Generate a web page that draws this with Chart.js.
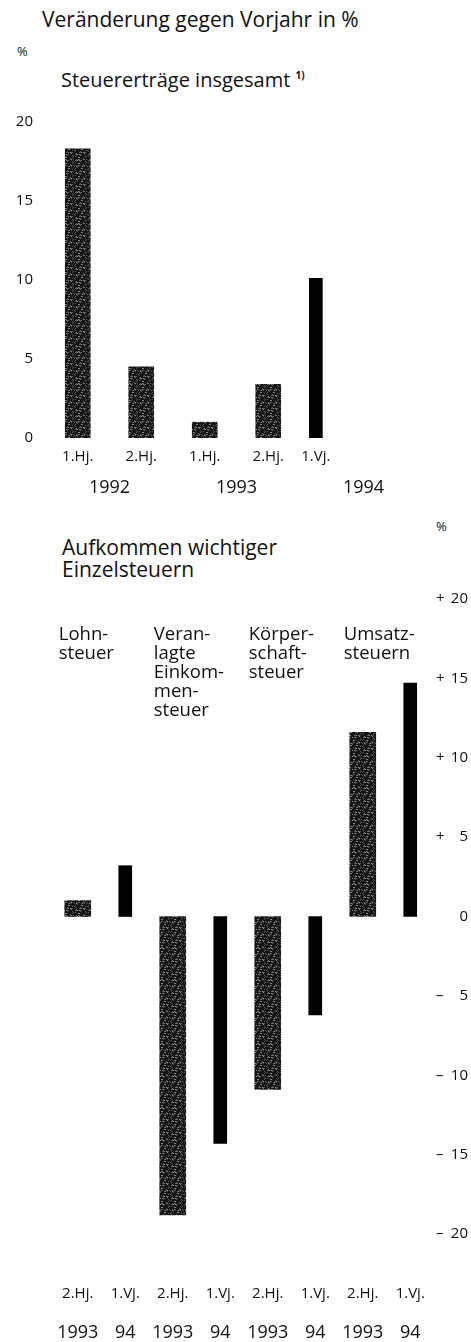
<!DOCTYPE html>
<html>
<head>
<meta charset="utf-8">
<script src="https://cdn.jsdelivr.net/npm/chart.js@4.4.1/dist/chart.umd.min.js"></script>
<style>
  body { margin: 0; background: #fff; }
  #page { position: relative; width: 471px; height: 1342px; font-family: "Open Sans", sans-serif; color: #111; }
  .txt { position: absolute; white-space: nowrap; line-height: 1; }
  canvas { position: absolute; left: 0; }
</style>
</head>
<body>
<div id="page">
  <div class="txt" style="left:42px; top:9px; font-size:21px;">Veränderung gegen Vorjahr in %</div>
  <div class="txt" style="left:17px; top:45px; font-size:13px;">%</div>
  <div class="txt" style="left:61px; top:70px; font-size:20px;">Steuererträge insgesamt <sup style="font-size:10px; font-weight:bold;">1)</sup></div>
  <div class="txt" style="left:436px; top:520px; font-size:13px;">%</div>
  <div class="txt" style="left:62px; top:536px; font-size:21px; line-height:22px;">Aufkommen wichtiger<br>Einzelsteuern</div>
  <div style="position:absolute; left:0; top:0; width:471px; height:510px;"><canvas id="totalChart"></canvas></div>
  <div style="position:absolute; left:0; top:500px; width:471px; height:842px;"><canvas id="singleChart"></canvas></div>
</div>
<script>
// Steuererträge insgesamt, Veränderung gegen Vorjahr in %
// x position = middle of the period in months since start of 1992
const totalHalfYearX = [3, 9, 15, 21];
const totalHalfYearValues = [18.3, 4.5, 1.0, 3.4];
const totalQuarterX = [25.5];
const totalQuarterValues = [10.1];
const totalPeriodLabels = ['1.Hj.', '2.Hj.', '1.Hj.', '2.Hj.', '1.Vj.'];
const totalYearX = [6, 18, 30];
const totalYearLabels = ['1992', '1993', '1994'];

// Aufkommen wichtiger Einzelsteuern
const taxNames = [['Lohn-', 'steuer'], ['Veran-', 'lagte', 'Einkom-', 'men-', 'steuer'], ['Körper-', 'schaft-', 'steuer'], ['Umsatz-', 'steuern']];
const secondHalf1993 = [1.0, -18.8, -10.9, 11.6];
const firstQuarter1994 = [3.2, -14.3, -6.2, 14.7];
const singlePeriodLabels = ['2.Hj.', '1.Vj.', '2.Hj.', '1.Vj.', '2.Hj.', '1.Vj.', '2.Hj.', '1.Vj.'];
const singleYearLabels = ['1993', '94', '1993', '94', '1993', '94', '1993', '94'];

const FONT = '"Open Sans", sans-serif';

// stippled grey texture like the printed half-year bars
function makeStipple() {
    const c = document.createElement('canvas');
    c.width = 32; c.height = 32;
    const g = c.getContext('2d');
    g.fillStyle = '#161616';
    g.fillRect(0, 0, 32, 32);
    for (let y = 0; y < 32; y++) {
        for (let x = 0; x < 32; x++) {
            const h = (x * x * 31 + y * y * 17 + x * y * 7 + x * 3) % 13;
            if (h < 3) {
                g.fillStyle = h === 0 ? '#8a8a8a' : '#555';
                g.fillRect(x, y, 1, 1);
            }
        }
    }
    return g.createPattern(c, 'repeat');
}
const stipple = makeStipple();

const periodX = totalHalfYearX.concat(totalQuarterX);

new Chart(document.getElementById('totalChart'), {
    type: 'bar',
    data: {
        datasets: [{
            data: totalHalfYearX.map((x, i) => ({ x: x, y: totalHalfYearValues[i] })),
            backgroundColor: stipple,
            barThickness: 25,
            grouped: false
        }, {
            data: totalQuarterX.map((x, i) => ({ x: x, y: totalQuarterValues[i] })),
            backgroundColor: '#000',
            barThickness: 13,
            grouped: false
        }]
    },
    options: {
        responsive: true,
        maintainAspectRatio: false,
        animation: false,
        layout: { padding: { top: 122, left: 0, right: 44, bottom: 0 } },
        plugins: { legend: { display: false }, tooltip: { enabled: false } },
        scales: {
            x: {
                type: 'linear', min: 0, max: 36, offset: false,
                grid: { display: false, drawTicks: false }, border: { display: false },
                afterBuildTicks: axis => { axis.ticks = periodX.map(v => ({ value: v })); },
                afterFit: axis => { axis.height = 34; },
                ticks: {
                    autoSkip: false, maxRotation: 0, padding: 10, color: '#111',
                    font: { family: FONT, size: 15 },
                    callback: v => totalPeriodLabels[periodX.indexOf(v)]
                }
            },
            x2: {
                type: 'linear', position: 'bottom', min: 0, max: 36, offset: false,
                grid: { display: false, drawTicks: false }, border: { display: false },
                afterBuildTicks: axis => { axis.ticks = totalYearX.map(v => ({ value: v })); },
                afterFit: axis => { axis.height = 38; },
                ticks: {
                    autoSkip: false, maxRotation: 0, padding: 5, color: '#111',
                    font: { family: FONT, size: 18 },
                    callback: v => totalYearLabels[totalYearX.indexOf(v)]
                }
            },
            y: {
                min: 0, max: 20,
                grid: { display: false, drawTicks: false }, border: { display: false },
                afterFit: axis => { axis.width = 46; },
                ticks: { stepSize: 5, padding: 13, color: '#111', font: { family: FONT, size: 15 } }
            }
        }
    }
});

// right hand axis with "+ 20" / "– 5" style labels and the tax names
const singleLabels = {
    id: 'singleLabels',
    afterDraw(chart) {
        const ctx = chart.ctx;
        const ys = chart.scales.y;
        const xs = chart.scales.x;
        ctx.save();
        ctx.fillStyle = '#111';
        ctx.textBaseline = 'middle';
        ctx.font = '15px ' + FONT;
        ys.ticks.forEach(t => {
            const py = ys.getPixelForValue(t.value);
            ctx.textAlign = 'right';
            ctx.fillText(String(Math.abs(t.value)), 468, py);
            if (t.value !== 0) {
                ctx.textAlign = 'left';
                ctx.fillText(t.value > 0 ? '+' : '–', 436, py);
            }
        });
        ctx.font = '18.5px ' + FONT;
        ctx.textAlign = 'left';
        taxNames.forEach((lines, i) => {
            const px = xs.getPixelForValue(i * 2) - 19;
            const top = ys.getPixelForValue(20) + 36;
            lines.forEach((s, j) => ctx.fillText(s, px, top + j * 19));
        });
        ctx.restore();
    }
};

// keep the chart area width independent of the label drop below the bars
const noSidePadding = axis => { axis.paddingLeft = 0; axis.paddingRight = 0; };

new Chart(document.getElementById('singleChart'), {
    type: 'bar',
    data: {
        labels: singlePeriodLabels,
        datasets: [{
            data: singlePeriodLabels.map((l, i) => i % 2 === 0 ? secondHalf1993[i / 2] : null),
            backgroundColor: stipple,
            barThickness: 26,
            grouped: false
        }, {
            data: singlePeriodLabels.map((l, i) => i % 2 === 1 ? firstQuarter1994[(i - 1) / 2] : null),
            backgroundColor: '#000',
            barThickness: 13,
            grouped: false
        }]
    },
    options: {
        responsive: true,
        maintainAspectRatio: false,
        animation: false,
        layout: { padding: { top: 99, left: 54, right: 0, bottom: 0 } },
        plugins: { legend: { display: false }, tooltip: { enabled: false } },
        scales: {
            x: {
                grid: { display: false, drawTicks: false }, border: { display: false },
                afterFit: axis => { axis.height = 78; noSidePadding(axis); },
                ticks: { autoSkip: false, maxRotation: 0, padding: 51, color: '#111', font: { family: FONT, size: 15 } }
            },
            x2: {
                type: 'category', position: 'bottom', labels: singleYearLabels,
                grid: { display: false, drawTicks: false }, border: { display: false },
                afterFit: axis => { axis.height = 30; noSidePadding(axis); },
                ticks: { autoSkip: false, maxRotation: 0, padding: 10, color: '#111', font: { family: FONT, size: 18 } }
            },
            y: {
                position: 'right', min: -20, max: 20,
                grid: { display: false, drawTicks: false }, border: { display: false },
                afterFit: axis => { axis.width = 37; },
                ticks: { stepSize: 5, display: false }
            }
        }
    },
    plugins: [singleLabels]
});
</script>
</body>
</html>
